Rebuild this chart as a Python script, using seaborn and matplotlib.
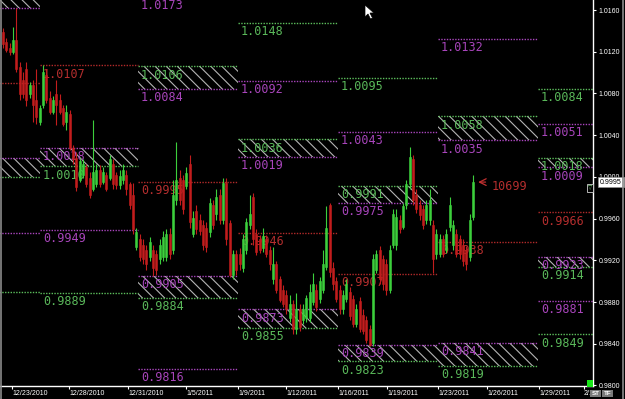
import numpy as np
import pandas as pd
import matplotlib
matplotlib.use("Agg")
import matplotlib.pyplot as plt
import matplotlib.transforms as mtransforms
from matplotlib.patches import Rectangle, Polygon
from matplotlib.lines import Line2D
import seaborn as sns

# ---------------- data ----------------
opens = [1.0139, 1.0129, 1.0124, 1.0120, 1.0131, 1.0105, 1.0093, 1.0103, 1.0079, 1.0088,
         1.0074, 1.0053, 1.0069, 1.0098, 1.0076, 1.0062, 1.0079, 1.0074, 1.0066, 1.0053,
         1.0060, 1.0028, 1.0018, 0.9997, 1.0002, 1.0009, 0.9999, 0.9988, 0.9993, 1.0007,
         0.9995, 1.0002, 0.9999, 1.0012, 1.0002, 0.9992, 0.9997, 1.0002, 0.9993, 0.9983,
         0.9933, 0.9940, 0.9935, 0.9930, 0.9923, 0.9930, 0.9926, 0.9921, 0.9923, 0.9923,
         0.9945, 0.9930, 0.9978, 0.9999, 0.9997, 0.9991, 1.0012, 0.9945, 0.9967, 0.9959,
         0.9954, 0.9951, 0.9947, 0.9973, 0.9964, 0.9983, 0.9959, 0.9994, 0.9956, 0.9906,
         0.9926, 0.9926, 0.9913, 0.9930, 0.9954, 0.9981, 0.9945, 0.9940, 0.9932, 0.9940,
         0.9930, 0.9902, 0.9916, 0.9902, 0.9892, 0.9887, 0.9865, 0.9878, 0.9854, 0.9873,
         0.9863, 0.9865, 0.9865, 0.9880, 0.9892, 0.9883, 0.9892, 0.9914, 0.9973, 0.9913,
         0.9900, 0.9892, 0.9873, 0.9883, 0.9890, 0.9883, 0.9859, 0.9881, 0.9868, 0.9863,
         0.9854, 0.9841, 0.9911, 0.9930, 0.9921, 0.9916, 0.9892, 0.9935, 0.9935, 0.9959,
         0.9952, 0.9973, 0.9993, 1.0017, 0.9983, 0.9973, 0.9969, 0.9959, 0.9959, 0.9954,
         0.9926, 0.9926, 0.9940, 0.9930, 0.9952, 0.9935, 0.9945, 0.9940, 0.9935, 0.9930,
         0.9923, 0.9962]
closes = [1.0127, 1.0122, 1.0120, 1.0131, 1.0103, 1.0079, 1.0079, 1.0074, 1.0088, 1.0069,
          1.0057, 1.0066, 1.0101, 1.0074, 1.0062, 1.0074, 1.0069, 1.0062, 1.0051, 1.0062,
          1.0028, 1.0017, 0.9990, 1.0015, 1.0012, 0.9993, 0.9983, 1.0005, 1.0007, 0.9993,
          1.0005, 0.9988, 1.0017, 0.9993, 0.9992, 1.0001, 1.0007, 0.9988, 0.9973, 0.9950,
          0.9947, 0.9923, 0.9921, 0.9916, 0.9938, 0.9913, 0.9911, 0.9935, 0.9942, 0.9945,
          0.9926, 0.9983, 0.9997, 0.9978, 0.9969, 1.0004, 0.9957, 0.9961, 0.9950, 0.9948,
          0.9935, 0.9933, 0.9975, 0.9954, 0.9981, 0.9959, 0.9994, 0.9940, 0.9906, 0.9926,
          0.9911, 0.9916, 0.9940, 0.9957, 0.9964, 0.9940, 0.9928, 0.9930, 0.9943, 0.9926,
          0.9916, 0.9916, 0.9892, 0.9882, 0.9878, 0.9873, 0.9878, 0.9854, 0.9873, 0.9856,
          0.9873, 0.9884, 0.9890, 0.9897, 0.9875, 0.9900, 0.9916, 0.9951, 0.9909, 0.9897,
          0.9883, 0.9873, 0.9887, 0.9897, 0.9867, 0.9859, 0.9873, 0.9854, 0.9852, 0.9844,
          0.9839, 0.9921, 0.9926, 0.9902, 0.9897, 0.9892, 0.9930, 0.9964, 0.9962, 0.9950,
          0.9972, 0.9993, 1.0019, 0.9978, 0.9969, 0.9963, 0.9954, 0.9973, 0.9978, 0.9921,
          0.9945, 0.9940, 0.9926, 0.9945, 0.9973, 0.9954, 0.9926, 0.9926, 0.9919, 0.9916,
          0.9959, 0.9995]
highs = [1.0143, 1.0133, 1.0128, 1.0144, 1.0162, 1.0110, 1.0101, 1.0110, 1.0091, 1.0093,
         1.0103, 1.0069, 1.0107, 1.0103, 1.0082, 1.0078, 1.0093, 1.0079, 1.0069, 1.0069,
         1.0064, 1.0031, 1.0024, 1.0018, 1.0017, 1.0012, 1.0005, 1.0055, 1.0012, 1.0011,
         1.0009, 1.0005, 1.0021, 1.0017, 1.0005, 1.0007, 1.0012, 1.0007, 0.9995, 0.9994,
         0.9951, 0.9945, 0.9940, 0.9935, 0.9942, 0.9935, 0.9930, 0.9940, 0.9948, 0.9950,
         0.9951, 0.9997, 1.0033, 1.0007, 1.0002, 1.0009, 1.0021, 0.9967, 0.9973, 0.9964,
         0.9959, 0.9957, 0.9980, 0.9978, 0.9988, 0.9988, 0.9999, 0.9999, 0.9959, 0.9930,
         0.9930, 0.9932, 0.9945, 0.9961, 0.9983, 0.9985, 0.9950, 0.9944, 0.9951, 0.9944,
         0.9934, 0.9933, 0.9919, 0.9905, 0.9896, 0.9892, 0.9887, 0.9882, 0.9889, 0.9878,
         0.9878, 0.9887, 0.9897, 0.9908, 0.9897, 0.9904, 0.9930, 0.9972, 0.9975, 0.9918,
         0.9904, 0.9896, 0.9892, 0.9902, 0.9894, 0.9887, 0.9878, 0.9885, 0.9873, 0.9867,
         0.9858, 0.9926, 0.9930, 0.9934, 0.9925, 0.9921, 0.9935, 0.9969, 0.9969, 0.9963,
         0.9975, 0.9997, 1.0029, 1.0021, 0.9988, 0.9978, 0.9973, 0.9978, 0.9988, 0.9959,
         0.9950, 0.9945, 0.9944, 0.9950, 0.9981, 0.9959, 0.9950, 0.9944, 0.9940, 0.9934,
         0.9964, 1.0002]
lows = [1.0124, 1.0120, 1.0117, 1.0118, 1.0101, 1.0074, 1.0076, 1.0068, 1.0076, 1.0053,
        1.0051, 1.0050, 1.0066, 1.0071, 1.0060, 1.0060, 1.0050, 1.0060, 1.0049, 1.0045,
        1.0026, 1.0012, 0.9986, 0.9995, 0.9999, 0.9990, 0.9980, 0.9986, 0.9990, 0.9990,
        0.9993, 0.9986, 0.9997, 0.9988, 0.9988, 0.9988, 0.9993, 0.9983, 0.9969, 0.9945,
        0.9930, 0.9919, 0.9916, 0.9911, 0.9919, 0.9905, 0.9906, 0.9916, 0.9919, 0.9919,
        0.9921, 0.9926, 0.9973, 0.9973, 0.9964, 0.9988, 0.9951, 0.9942, 0.9945, 0.9944,
        0.9930, 0.9928, 0.9942, 0.9950, 0.9959, 0.9955, 0.9955, 0.9935, 0.9904, 0.9902,
        0.9906, 0.9911, 0.9909, 0.9926, 0.9950, 0.9935, 0.9925, 0.9927, 0.9928, 0.9923,
        0.9911, 0.9897, 0.9889, 0.9880, 0.9875, 0.9869, 0.9861, 0.9849, 0.9849, 0.9852,
        0.9859, 0.9861, 0.9861, 0.9877, 0.9871, 0.9879, 0.9889, 0.9911, 0.9904, 0.9892,
        0.9880, 0.9869, 0.9869, 0.9880, 0.9863, 0.9856, 0.9856, 0.9851, 0.9849, 0.9841,
        0.9838, 0.9838, 0.9908, 0.9897, 0.9892, 0.9887, 0.9889, 0.9932, 0.9930, 0.9946,
        0.9950, 0.9969, 0.9988, 0.9973, 0.9965, 0.9959, 0.9950, 0.9955, 0.9954, 0.9908,
        0.9921, 0.9923, 0.9923, 0.9927, 0.9948, 0.9930, 0.9923, 0.9921, 0.9915, 0.9911,
        0.9919, 0.9959]

# weekly pivot segments (edges in bar units)
week_edges = [-1.5, 11.1, 40.5, 70.5, 100.5, 130.5, 160.5, 178.0]

level_week = [0, 0, 0, 0, 0, 0, 0,
              1, 1, 1, 1, 1,
              2, 2, 2, 2, 2, 2, 2,
              3, 3, 3, 3, 3, 3, 3,
              4, 4, 4, 4, 4, 4, 4,
              5, 5, 5, 5, 5, 5,
              6, 6, 6, 6, 6, 6, 6, 6, 6]
level_price = [1.0185, 1.0162, 1.0090, 1.0018, 1.0000, 0.9946, 0.9890,
               1.0107, 1.0028, 1.0010, 0.9949, 0.9889,
               1.0173, 1.0106, 1.0084, 0.9995, 0.9905, 0.9884, 0.9816,
               1.0148, 1.0092, 1.0036, 1.0019, 0.9946, 0.9873, 0.9855,
               1.0095, 1.0043, 0.9991, 0.9975, 0.9907, 0.9839, 0.9823,
               1.0132, 1.0058, 1.0035, 0.9938, 0.9841, 0.9819,
               1.0084, 1.0051, 1.0018, 1.0009, 0.9966, 0.9923, 0.9914, 0.9881, 0.9849]
level_kind = ["S", "R", "P", "R", "S", "R", "S",
              "P", "R", "S", "R", "S",
              "R", "S", "R", "P", "R", "S", "R",
              "S", "R", "S", "R", "P", "R", "S",
              "S", "R", "S", "R", "P", "R", "S",
              "R", "S", "R", "P", "R", "S",
              "S", "R", "S", "R", "P", "R", "S", "R", "S"]

zone_week = [0, 0, 1, 2, 2, 3, 3, 4, 4, 5, 5, 6, 6]
zone_low = [1.0162, 1.0000, 1.0010, 1.0084, 0.9884, 1.0019, 0.9855, 0.9975, 0.9823,
            1.0035, 0.9819, 1.0009, 0.9914]
zone_high = [1.0185, 1.0018, 1.0028, 1.0106, 0.9905, 1.0036, 0.9873, 0.9991, 0.9839,
             1.0058, 0.9841, 1.0018, 0.9923]

date_tick_pos = [2.7, 19.8, 37.5, 54.9, 70.5, 84.9, 100.5, 115.2, 130.5, 145.2, 160.8, 174.3]
date_tick_labels = ["12/23/2010", "12/28/2010", "12/31/2010", "1/5/2011", "1/9/2011",
                    "1/12/2011", "1/16/2011", "1/19/2011", "1/23/2011", "1/26/2011",
                    "1/29/2011", "2/1"]
price_ticks = [0.9800, 0.9840, 0.9880, 0.9920, 0.9960, 1.0000, 1.0040, 1.0080, 1.0120, 1.0160]
last_price = 0.9995
tick_count_text = "10699"

# ---------------- style ----------------
CANDLE_UP = "#3ccf3c"
CANDLE_DN = "#c21d1d"
LINE_COLORS = {"S": "#5cbf5c", "R": "#a945bd", "P": "#b22a2a"}
LABEL_COLORS = {"S": "#5ab85a", "R": "#a845bb", "P": "#b52e2e"}

sns.set_theme(style="dark", rc={
    "axes.facecolor": "black", "figure.facecolor": "black",
    "axes.edgecolor": "white", "axes.grid": False,
    "xtick.color": "white", "ytick.color": "white",
    "hatch.linewidth": 0.8,
})
plt.rcParams["font.family"] = ["Liberation Sans", "DejaVu Sans"]

fig = plt.figure(figsize=(6.25, 3.99), dpi=100)
ax = fig.add_axes([0.0, 13 / 399, 593 / 625, 386 / 399])
ax.set_facecolor("black")

# hatched zones
for w, lo, hi in zip(zone_week, zone_low, zone_high):
    ax.add_patch(Rectangle((week_edges[w], lo), week_edges[w + 1] - week_edges[w], hi - lo,
                           facecolor="none", edgecolor="#b4b4b4", hatch="\\\\\\",
                           linewidth=0, zorder=1))

# level lines through seaborn
rows = []
for uid, (w, p, k) in enumerate(zip(level_week, level_price, level_kind)):
    rows.append({"x": week_edges[w], "price": p, "kind": k, "uid": uid})
    rows.append({"x": week_edges[w + 1], "price": p, "kind": k, "uid": uid})
lev = pd.DataFrame(rows)
sns.lineplot(data=lev, x="x", y="price", hue="kind", units="uid", estimator=None,
             palette=LINE_COLORS, linewidth=1.0, linestyle=(0, (1, 1)),
             legend=False, ax=ax, zorder=2)

# level labels
for w, p, k in zip(level_week, level_price, level_kind):
    if w == 0:
        continue
    ax.annotate(f"{p:.4f}", xy=(week_edges[w], p), xytext=(2.0, -1.6),
                textcoords="offset points", ha="left", va="top",
                color=LABEL_COLORS[k], fontsize=8.5, family="DejaVu Sans Mono",
                zorder=2.5, annotation_clip=False)

# candles
o = np.array(opens); c = np.array(closes); h = np.array(highs); l = np.array(lows)
x = np.arange(len(c))
cols = np.where(c >= o, CANDLE_UP, CANDLE_DN)
ax.vlines(x, l, h, colors=cols, linewidth=0.8, zorder=3)
ax.bar(x, np.abs(c - o), bottom=np.minimum(o, c), width=0.6, color=cols,
       edgecolor=cols, linewidth=0.4, zorder=4)

# last price arrow and tick counter
ax.annotate("", xy=(len(c) - 0.3, last_price), xytext=(len(c) + 3.6, last_price),
            arrowprops=dict(arrowstyle="->", color="#c03030", lw=0.9), zorder=5)
ax.annotate(tick_count_text, xy=(len(c) + 4.5, last_price), xytext=(0, -3.5),
            textcoords="offset points", ha="left", va="center", color="#b52e2e",
            fontsize=8.5, family="DejaVu Sans Mono", zorder=5)

# axes
ax.set_xlim(-0.9, 177.0)
ax.set_ylim(0.97995, 1.01696)
ax.yaxis.tick_right()
ax.set_yticks(price_ticks)
ax.set_yticklabels([f"{t:.4f}" for t in price_ticks])
ax.set_xticks(date_tick_pos)
ax.set_xticklabels(date_tick_labels)
for t in ax.get_xticklabels():
    t.set_ha("left")
ax.tick_params(axis="y", colors="white", length=2.5, width=0.8, labelsize=5, pad=1.5,
               direction="out", right=True, left=False)
ax.tick_params(axis="x", colors="white", length=2.0, width=0.8, labelsize=5, pad=1.2,
               direction="out", bottom=True)
for s in ["top", "left"]:
    ax.spines[s].set_visible(False)
for s in ["right", "bottom"]:
    ax.spines[s].set_color("white")
    ax.spines[s].set_linewidth(1.0)
ax.set_xlabel("")
ax.set_ylabel("")
ax.grid(False)

# current price box
trans = mtransforms.blended_transform_factory(ax.transAxes, ax.transData)
ax.text(1.012, last_price, f"{last_price:.4f}", transform=trans, ha="left", va="center",
        fontsize=5, color="black", clip_on=False, zorder=10,
        bbox=dict(boxstyle="square,pad=0.25", fc="white", ec="#909090", lw=0.5))

# chrome: borders, cursor, small widgets
def fx(px):
    return px / 625
def fy(py):
    return 1 - py / 399

fig.add_artist(Line2D([fx(0.8), fx(0.8)], [0, 1], color="#8a8a8a", lw=1.2))
fig.add_artist(Line2D([fx(623), fx(623)], [0, 1], color="#8a8a8a", lw=1.2))
fig.add_artist(Rectangle((fx(587), fy(387)), 6 / 625, 7 / 399, transform=fig.transFigure,
                         facecolor="#19e619", edgecolor="none"))
fig.add_artist(Rectangle((fx(587), fy(192)), 6 / 625, 8 / 399, transform=fig.transFigure,
                         facecolor="black", edgecolor="#d0d0d0", lw=0.6))
fig.text(fx(590), fy(188), "\u25bd", color="#7ddc7d", fontsize=4, ha="center", va="center",
         family="DejaVu Sans")
fig.text(fx(595.5), fy(393.5), "ST", color="white", fontsize=4.5, ha="center", va="center",
         fontweight="bold",
         bbox=dict(boxstyle="square,pad=0.2", fc="#7a7a7a", ec="none"))
fig.text(fx(607.5), fy(393.5), "TF", color="white", fontsize=4.5, ha="center", va="center",
         fontweight="bold",
         bbox=dict(boxstyle="square,pad=0.2", fc="#7a7a7a", ec="none"))
cursor_px = [(365, 5), (365, 17), (368, 14), (370.5, 19), (372.5, 18), (370, 13), (374, 13)]
fig.add_artist(Polygon([(fx(a), fy(b)) for a, b in cursor_px], closed=True,
                       transform=fig.transFigure, facecolor="white", edgecolor="black", lw=0.5))

fig.savefig("out.png", dpi=100, facecolor="black")
